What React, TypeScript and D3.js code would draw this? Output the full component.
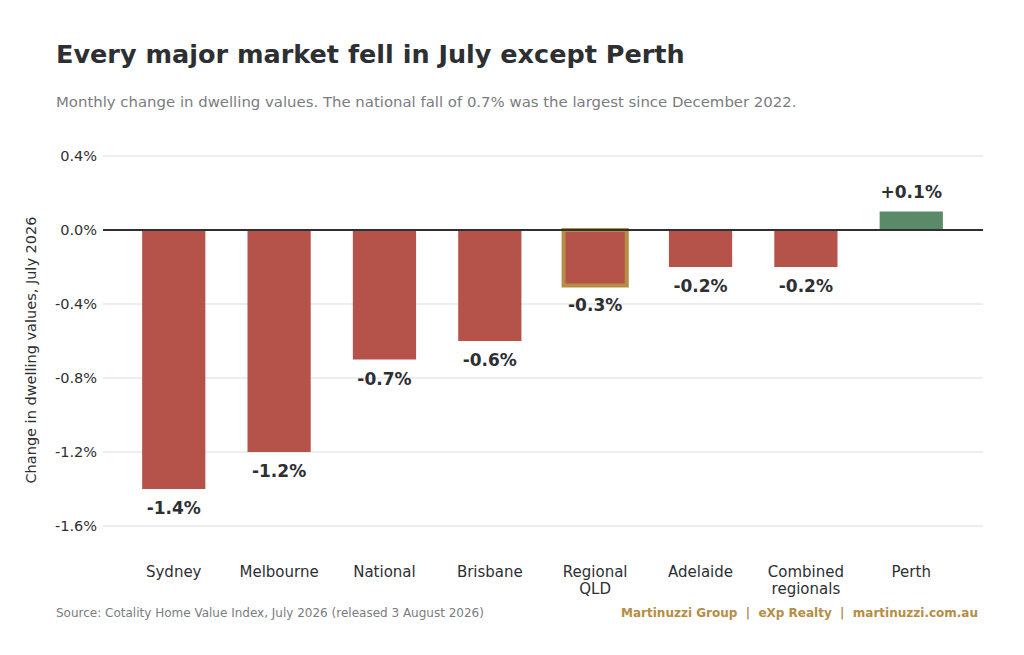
import * as d3 from 'd3'

const categories = ['Sydney', 'Melbourne', 'National', 'Brisbane', 'Regional\nQLD', 'Adelaide', 'Combined\nregionals', 'Perth']
const changes = [-1.4, -1.2, -0.7, -0.6, -0.3, -0.2, -0.2, 0.1]
const ticks = [0.4, 0, -0.4, -0.8, -1.2, -1.6]
const highlight = 'Regional\nQLD'

const font = '"DejaVu Sans", sans-serif'

export default function App() {
  const x = d3.scaleBand().domain(categories).range([100, 985]).padding(0.4)
  const y = d3.scaleLinear().domain([-1.6, 0.4]).range([526, 156])
  const fmt = (v: number) => (v > 0 ? '+' : '') + v.toFixed(1) + '%'
  return (
    <svg width={1024} height={655} style={{ position: 'absolute', left: 0, top: 0, fontFamily: font }}>
      <rect width={1024} height={655} fill="#fff" />
      <text x={56} y={63} fontSize={25.5} fontWeight="bold" fill="#2d2f33">Every major market fell in July except Perth</text>
      <text x={56} y={107} fontSize={14.9} fill="#7a7c80">Monthly change in dwelling values. The national fall of 0.7% was the largest since December 2022.</text>
      {ticks.map((t) => (
        <g key={t}>
          <line x1={103} x2={983} y1={y(t)} y2={y(t)} stroke="#dcdcdc" strokeWidth={1} />
          <text x={97} y={y(t) + 5} textAnchor="end" fontSize={14.5} fill="#2d2f33">{t === 0 ? '0.0%' : t.toFixed(1) + '%'}</text>
        </g>
      ))}
      <text transform={`translate(36,350) rotate(-90)`} textAnchor="middle" fontSize={14.5} fill="#2d2f33">Change in dwelling values, July 2026</text>
      {categories.map((c, i) => {
        const v = changes[i]
        const x0 = x(c) ?? 0
        const top = y(Math.max(v, 0))
        const h = Math.abs(y(v) - y(0))
        const hl = c === highlight
        return (
          <g key={c}>
            <rect x={x0} y={top} width={x.bandwidth()} height={h} fill={v > 0 ? '#5a8a68' : '#b5534a'}
              stroke={hl ? '#b58d45' : 'none'} strokeWidth={hl ? 4 : 0} />
            <text x={x0 + x.bandwidth() / 2} y={v > 0 ? y(v) - 14 : y(v) + 25} textAnchor="middle" fontSize={17} fontWeight="bold" fill="#2d2f33">{fmt(v)}</text>
            {c.split('\n').map((line, j) => (
              <text key={j} x={x0 + x.bandwidth() / 2} y={577 + j * 17} textAnchor="middle" fontSize={15} fill="#2d2f33">{line}</text>
            ))}
          </g>
        )
      })}
      <line x1={103} x2={983} y1={y(0)} y2={y(0)} stroke="#2d2f33" strokeWidth={1.8} />
      <text x={56} y={617} fontSize={12} fill="#7a7c80">Source: Cotality Home Value Index, July 2026 (released 3 August 2026)</text>
      <text x={978} y={617} textAnchor="end" fontSize={12} fontWeight="bold" fill="#b58d45" style={{ whiteSpace: 'pre' }}>Martinuzzi Group  |  eXp Realty  |  martinuzzi.com.au</text>
    </svg>
  )
}
